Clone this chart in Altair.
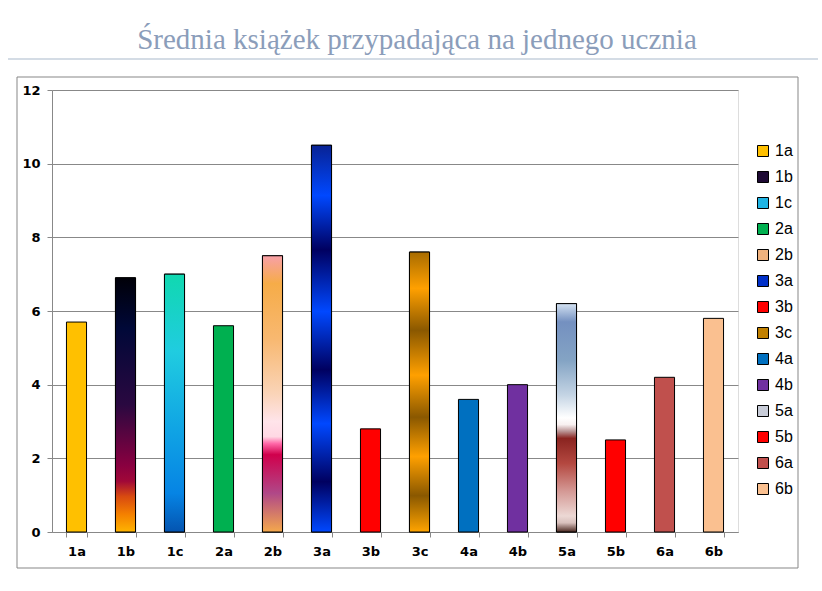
import altair as alt
import pandas as pd

classes = ["1a", "1b", "1c", "2a", "2b", "3a", "3b", "3c", "4a", "4b", "5a", "5b", "6a", "6b"]
values = [5.7, 6.9, 7.0, 5.6, 7.5, 10.5, 2.8, 7.6, 3.6, 4.0, 6.2, 2.5, 4.2, 5.8]
title_text = "Średnia książek przypadająca na jednego ucznia"

# solid (legend) colours
solid_colors = ["#ffc000", "#1e0a34", "#1fb4e4", "#00b050", "#f0b27e", "#0030c8", "#ff0000",
                "#c08000", "#0070c0", "#7030a0", "#c8ccd8", "#ff0000", "#c0504d", "#fac090"]

# gradient styles for the textured bars (top -> bottom)
gradients = {
    "1b": [(0.0, "#000008"), (0.2, "#000838"), (0.5, "#2a0840"), (0.74, "#8a0040"),
           (0.8, "#a00838"), (0.86, "#d84a10"), (0.93, "#f48000"), (1.0, "#ffb400")],
    "1c": [(0.0, "#10d8b0"), (0.3, "#20cce0"), (0.6, "#10a4e4"), (0.85, "#0684e4"), (1.0, "#0454b0")],
    "2b": [(0.0, "#f8a0a8"), (0.1, "#f6ac48"), (0.3, "#f8b870"), (0.5, "#fad4b8"), (0.6, "#ffe4ea"),
           (0.655, "#ffd8e4"), (0.68, "#ff68a8"), (0.72, "#d0004c"), (0.86, "#b04888"), (1.0, "#f4a84c")],
    "3a": [(0.0, "#082294"), (0.13, "#0048ff"), (0.27, "#000060"), (0.43, "#0048ff"),
           (0.58, "#000060"), (0.72, "#0048ff"), (0.87, "#000060"), (1.0, "#0048ff")],
    "3c": [(0.0, "#a86c00"), (0.13, "#ffa000"), (0.28, "#8a5800"), (0.44, "#ffa000"),
           (0.59, "#8a5800"), (0.73, "#ffa000"), (0.87, "#8a5800"), (1.0, "#ffa400")],
    "5a": [(0.0, "#d4e2f2"), (0.08, "#7490c0"), (0.25, "#84a4c4"), (0.4, "#c4d4e4"), (0.5, "#ffffff"),
           (0.53, "#f8f0f0"), (0.56, "#b89090"), (0.59, "#8a2420"), (0.7, "#b44840"), (0.82, "#d49894"),
           (0.93, "#ecd8d4"), (0.96, "#d8c0bc"), (1.0, "#4a2820")],
}

df = pd.DataFrame({"cls": classes, "value": values})

W, H = 686, 442
font_axis = "DejaVu Sans"

x_enc = alt.X("cls:N", sort=classes,
              scale=alt.Scale(domain=classes, paddingInner=0.59, paddingOuter=0.295),
              axis=alt.Axis(title=None, labelAngle=0, tickBand="extent", labelFont=font_axis,
                            labelFontWeight="bold", labelFontSize=13, labelColor="black",
                            labelPadding=8, tickSize=5, tickColor="#888888", domainColor="#888888",
                            grid=False))
y_enc = alt.Y("value:Q", scale=alt.Scale(domain=[0, 12], nice=False),
              axis=alt.Axis(title=None, values=[0, 2, 4, 6, 8, 10, 12], labelFont=font_axis,
                            labelFontWeight="bold", labelFontSize=13, labelColor="black",
                            labelPadding=7, tickSize=5, tickColor="#888888", domainColor="#888888",
                            grid=True, gridColor="#888888", gridWidth=1))

base = alt.Chart(df).mark_bar(stroke="black", strokeWidth=1).encode(
    x=x_enc,
    y=y_enc,
    color=alt.Color("cls:N", scale=alt.Scale(domain=classes, range=solid_colors), title=None,
                    legend=alt.Legend(orient="none", legendX=703, legendY=53, symbolType="square",
                                      symbolSize=121, symbolStrokeColor="black", symbolStrokeWidth=1,
                                      labelFont="Liberation Sans", labelFontSize=16, labelColor="black",
                                      rowPadding=10, padding=0, labelOffset=4)),
)

layers = [base]
for name, stops in gradients.items():
    grad = alt.Gradient(gradient="linear", x1=0, x2=0, y1=0, y2=1,
                        stops=[alt.GradientStop(offset=o, color=c) for o, c in stops])
    layers.append(
        alt.Chart(df).transform_filter(alt.datum.cls == name)
        .mark_bar(color=grad, stroke="black", strokeWidth=1)
        .encode(x=x_enc, y=y_enc)
    )

one = pd.DataFrame({"a": [0]})
frame = alt.Chart(one).mark_rect(fill="transparent", stroke="#878787", strokeWidth=1).encode(
    x=alt.value(-35), x2=alt.value(746), y=alt.value(-13), y2=alt.value(478))
title_rule = alt.Chart(one).mark_rule(color="#a9b9cb", strokeWidth=1).encode(
    x=alt.value(-44), x2=alt.value(766), y=alt.value(-31))

chart = alt.layer(frame, title_rule, *layers).properties(
    width=W, height=H,
    autosize=alt.AutoSizeParams(type="none"),
    padding={"left": 52, "top": 90, "right": 84, "bottom": 59},
    title=alt.TitleParams(title_text, font="Liberation Serif", fontSize=29, fontWeight="normal",
                          color="#8b9dba", anchor="middle", dx=22, offset=4),
).configure_view(stroke="transparent").configure(background="white")

chart.save("out.html", embed_options={"renderer": "svg", "actions": False})
